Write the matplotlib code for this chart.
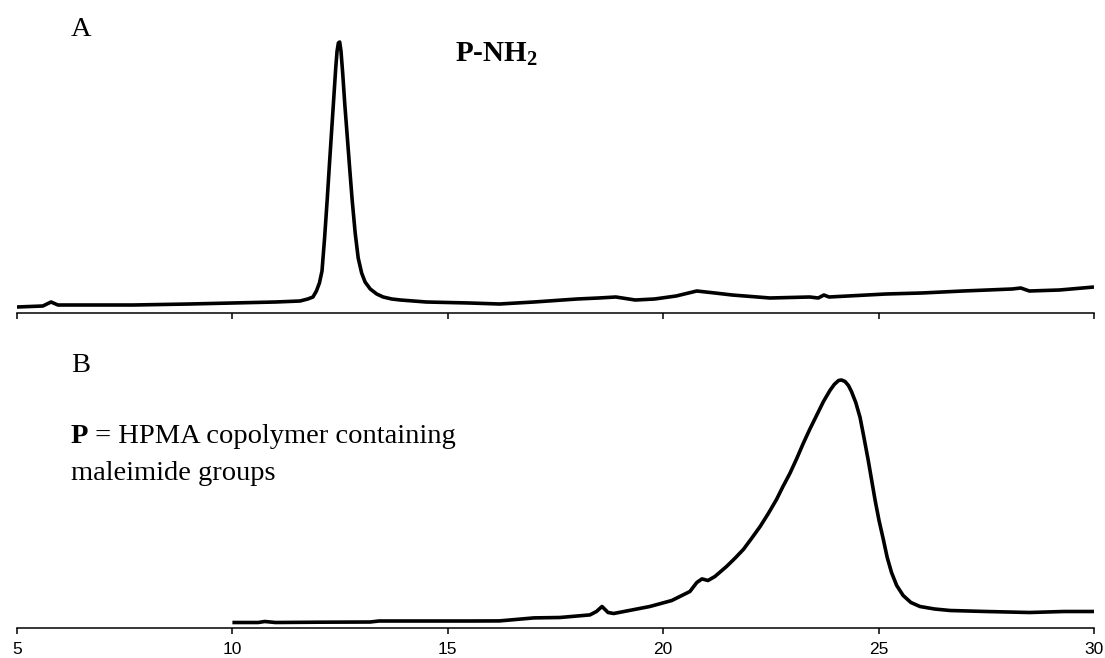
import matplotlib
matplotlib.use("Agg")
import matplotlib.pyplot as plt

# ---- data (retention time in min vs detector response, arbitrary units) ----
top_x = [5.0, 5.6, 5.79, 5.95, 6.5, 7.7, 9.0, 10.0, 11.0, 11.57, 11.75, 11.87, 11.95,
         12.02, 12.08, 12.14, 12.2, 12.25, 12.3, 12.35, 12.4, 12.43, 12.46, 12.49, 12.52,
         12.56, 12.61, 12.66, 12.72, 12.78, 12.85, 12.92, 13.0, 13.08, 13.2, 13.35, 13.5,
         13.7, 13.9, 14.5, 15.5, 16.2, 17.0, 18.0, 18.5, 18.9, 19.35, 19.8, 20.3, 20.78,
         21.2, 21.6, 22.48, 23.4, 23.6, 23.73, 23.85, 25.17, 26.0, 26.96, 28.1, 28.3,
         28.5, 29.2, 30.0]
top_y = [6, 7, 11, 8, 8, 8, 9, 10, 11, 12, 14, 16, 22,
         30, 42, 75, 113, 147, 180, 213, 246, 262, 270, 271, 262,
         240, 208, 180, 146, 113, 80, 55, 40, 31, 24, 19, 16,
         14, 13, 11, 10, 9, 11, 14, 15, 16, 13, 14, 17, 22,
         20, 18, 15, 16, 15, 18, 16, 19, 20, 22, 24, 25,
         22, 23, 26]

bot_x = [10.0, 10.6, 10.75, 11.0, 12.0, 13.2, 13.4, 14.5, 15.5, 16.2, 17.0, 17.6, 18.3,
         18.45, 18.58, 18.72, 18.85, 19.69, 20.2, 20.62, 20.78, 20.9, 21.04, 21.2, 21.47,
         21.66, 21.86, 22.05, 22.25, 22.44, 22.63, 22.78, 22.94, 23.1, 23.25, 23.4, 23.56,
         23.72, 23.87, 23.97, 24.07, 24.14, 24.22, 24.3, 24.37, 24.47, 24.57, 24.66, 24.76,
         24.84, 24.92, 25.01, 25.11, 25.2, 25.3, 25.42, 25.57, 25.75, 25.96, 26.3, 26.66,
         27.5, 28.5, 29.3, 30.0]
bot_y = [5, 5, 6, 5, 5.3, 5.5, 6.5, 6.5, 6.5, 6.6, 9.6, 10, 12.6,
         16, 21, 15, 14, 21, 27, 36, 45, 48.6, 47, 51, 61,
         69, 78, 89, 101, 114, 128, 141, 154, 169, 184, 198, 212,
         226, 237, 243, 247, 247.5, 246, 242, 236, 225, 210, 190, 167,
         147, 127, 107, 88, 70, 55, 42, 32, 25, 21, 18.5, 17,
         16, 15, 16, 16]

xticks = [5, 10, 15, 20, 25, 30]
panel_labels = ["A", "B"]
top_note = "P-NH$_{\\mathbf{2}}$"
bot_note_bold = "P"
bot_note_rest = " = HPMA copolymer containing"
bot_note_line2 = "maleimide groups"

plt.rcParams["mathtext.fontset"] = "custom"
plt.rcParams["mathtext.bf"] = "Liberation Serif:bold"
plt.rcParams["mathtext.rm"] = "Liberation Serif"

W, H = 1105, 658
fig = plt.figure(figsize=(W / 100, H / 100), dpi=100)

def fx(px):
    return px / W

def fy(py):
    return 1 - py / H

left = fx(17)
width = (1094 - 17) / W
ax1 = fig.add_axes([left, fy(313), width, 288 / H])
ax2 = fig.add_axes([left, fy(627.5), width, 282.5 / H])

for ax, xs, ys, top in ((ax1, top_x, top_y, 288), (ax2, bot_x, bot_y, 282.5)):
    ax.plot(xs, ys, color="black", lw=2.6, solid_joinstyle="round", solid_capstyle="butt")
    ax.set_xlim(5, 30)
    ax.set_ylim(0, top)
    for s in ("top", "right", "left"):
        ax.spines[s].set_visible(False)
    ax.spines["bottom"].set_linewidth(1.1)
    ax.set_yticks([])
    ax.set_xticks(xticks)
    ax.tick_params(axis="x", direction="out", length=4.5, width=1.1, pad=6)

ax1.set_xticklabels([])
ax2.set_xticklabels([str(t) for t in xticks], fontfamily="Liberation Sans", fontsize=12.5)

serif = "Liberation Serif"
fs = 20.5
fig.text(fx(71), fy(36), panel_labels[0], fontfamily=serif, fontsize=fs, va="baseline")
fig.text(fx(71), fy(372), panel_labels[1], fontfamily=serif, fontsize=fs, va="baseline")
fig.text(fx(455), fy(61.5), top_note, fontfamily=serif, fontsize=21, fontweight="bold",
         va="baseline")
t = fig.text(fx(71), fy(443), bot_note_bold, fontfamily=serif, fontsize=fs,
             fontweight="bold", va="baseline")
fig.canvas.draw()
bb = t.get_window_extent()
fig.text(bb.x1 / W, fy(443), bot_note_rest, fontfamily=serif, fontsize=fs, va="baseline")
fig.text(fx(71), fy(480), bot_note_line2, fontfamily=serif, fontsize=fs, va="baseline")

fig.savefig("out.png", dpi=100)
